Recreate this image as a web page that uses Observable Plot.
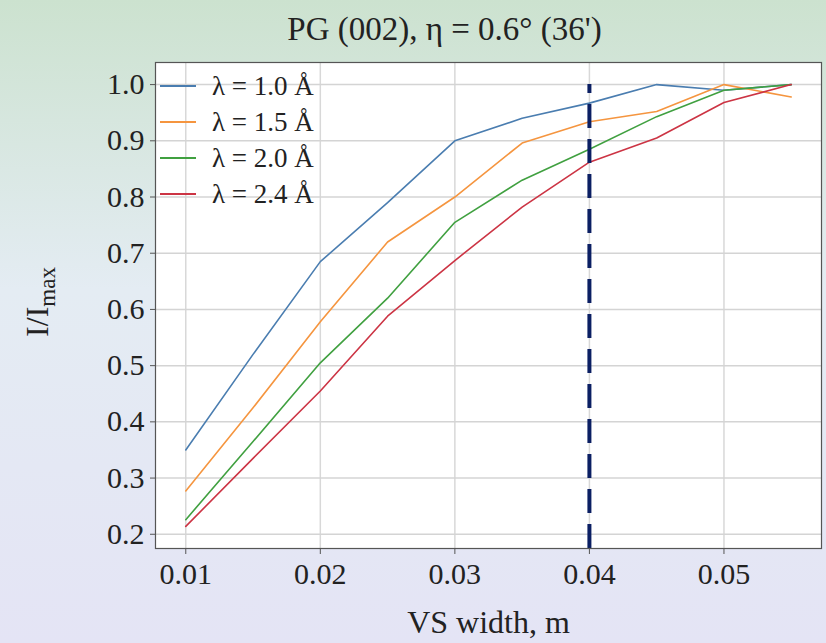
<!DOCTYPE html>
<html>
<head>
<meta charset="utf-8">
<script src="https://cdn.jsdelivr.net/npm/d3@7"></script>
<script src="https://cdn.jsdelivr.net/npm/@observablehq/plot@0.6"></script>
<style>
  html, body { margin: 0; padding: 0; }
  #wrap {
    position: relative; width: 826px; height: 643px; overflow: hidden;
    background: linear-gradient(to bottom, #cce2cf 0%, #e4ecf3 45%, #e4e4f5 100%);
    font-family: "Liberation Serif", "DejaVu Serif", serif;
  }
  #legend {
    position: absolute; left: 160px; top: 68px; font-size: 27px; color: #222;
    line-height: 36px;
  }
  #legend .row { display: flex; align-items: center; height: 36px; }
  #legend svg { margin-right: 16px; }
</style>
</head>
<body>
<div id="wrap"></div>
<script>
// ---- data ----
const widths = [0.01, 0.015, 0.02, 0.025, 0.03, 0.035, 0.04, 0.045, 0.05, 0.055];
const lambda10 = [0.35, 0.52, 0.685, 0.79, 0.90, 0.94, 0.967, 1.0, 0.99, 1.0];
const lambda15 = [0.277, 0.425, 0.578, 0.72, 0.80, 0.896, 0.934, 0.952, 1.0, 0.978];
const lambda20 = [0.226, 0.365, 0.505, 0.62, 0.755, 0.83, 0.885, 0.943, 0.99, 1.0];
const lambda24 = [0.214, 0.335, 0.455, 0.588, 0.687, 0.782, 0.862, 0.905, 0.968, 1.0];
const seriesLabels = ["λ = 1.0 Å", "λ = 1.5 Å", "λ = 2.0 Å", "λ = 2.4 Å"];
const seriesColors = ["#4a7db0", "#f5953f", "#40a040", "#cc3444"];
const xTicks = [0.01, 0.02, 0.03, 0.04, 0.05];
const yTicks = [0.2, 0.3, 0.4, 0.5, 0.6, 0.7, 0.8, 0.9, 1.0];
const markerWidth = 0.04;
const titleText = "PG (002), η = 0.6° (36')";
const xLabel = "VS width, m";

// ---- build table ----
const allSeries = [lambda10, lambda15, lambda20, lambda24];
const rows = [];
allSeries.forEach((vals, si) => {
  vals.forEach((v, i) => rows.push({ w: widths[i], v, s: seriesLabels[si] }));
});

// matplotlib-like 5% margins
const xMin = d3.min(widths), xMax = d3.max(widths);
const yAll = allSeries.flat();
const yMin = d3.min(yAll), yMax = d3.max(yAll);
const xPad = (xMax - xMin) * 0.05, yPad = (yMax - yMin) * 0.05;
const xDomain = [xMin - xPad, xMax + xPad];
const yDomain = [yMin - yPad, yMax + yPad];

const font = "Liberation Serif";

const chart = Plot.plot({
  width: 826,
  height: 643,
  marginLeft: 155,
  marginRight: 5,
  marginTop: 62,
  marginBottom: 95,
  style: { background: "transparent", fontFamily: font, color: "#222", overflow: "visible" },
  x: { domain: xDomain, label: null },
  y: { domain: yDomain, label: null },
  color: { domain: seriesLabels, range: seriesColors },
  marks: [
    Plot.frame({ fill: "white", stroke: "none" }),
    Plot.gridX(xTicks, { stroke: "#d8d8d8", strokeOpacity: 1, strokeWidth: 1.5 }),
    Plot.gridY(yTicks, { stroke: "#d4d4d4", strokeOpacity: 1, strokeWidth: 1.5 }),
    Plot.line(rows, { x: "w", y: "v", z: "s", stroke: "s", strokeWidth: 1.6 }),
    Plot.ruleX([markerWidth], { y1: yDomain[0], y2: yMax, stroke: "#0b1f63", strokeWidth: 4, strokeDasharray: "24,11" }),
    Plot.frame({ stroke: "#555", strokeWidth: 1.2 }),
    Plot.axisX(xTicks, { tickSize: 6, tickPadding: 8, fontSize: 30, tickFormat: d3.format(".2f"), stroke: "#555", label: null }),
    Plot.axisY(yTicks, { tickSize: 5, tickPadding: 6, fontSize: 30, tickFormat: d3.format(".1f"), stroke: "#555", label: null }),
    Plot.text([xLabel], { frameAnchor: "bottom", dy: 84, fontSize: 32, fill: "#222" }),
    Plot.text([titleText], { frameAnchor: "top", dx: -44, dy: -46, fontSize: 33, fill: "#222" })
  ]
});

const wrap = document.getElementById("wrap");
wrap.appendChild(chart);

// y label with subscript
const svg = d3.select(chart);
const yl = svg.append("text")
  .attr("transform", "translate(48,302) rotate(-90)")
  .attr("text-anchor", "middle")
  .attr("font-family", font)
  .attr("font-size", 32)
  .attr("fill", "#222");
yl.append("tspan").text("I/I");
yl.append("tspan").attr("font-size", 23).attr("dy", 7).text("max");

// legend
const legend = document.createElement("div");
legend.id = "legend";
seriesLabels.forEach((lab, i) => {
  const row = document.createElement("div");
  row.className = "row";
  row.innerHTML = `<svg width="36" height="4"><line x1="0" y1="2" x2="36" y2="2" stroke="${seriesColors[i]}" stroke-width="1.8"/></svg><span>${lab}</span>`;
  legend.appendChild(row);
});
wrap.appendChild(legend);
</script>
</body>
</html>
